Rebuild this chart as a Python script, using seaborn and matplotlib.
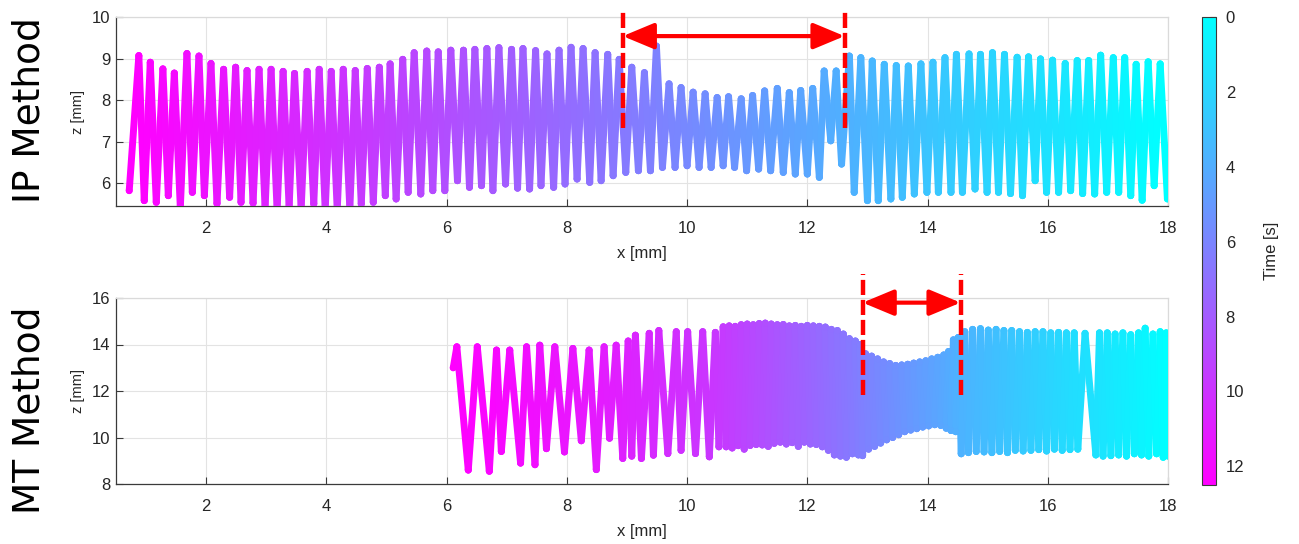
import numpy as np
import pandas as pd
import matplotlib
matplotlib.use("Agg")
import matplotlib.pyplot as plt
import seaborn as sns
from matplotlib.collections import LineCollection
from matplotlib.colors import Normalize

# ---- data (x in mm, z in mm) ----
DURATION = 12.5  # s, bottom of the colour bar

# IP method: peak and trough of every stroke (troughs list holds start and end point too)
ip_peak_x = [0.88, 1.07, 1.28, 1.47, 1.68, 1.88, 2.08, 2.29, 2.49, 2.68,
             2.88, 3.08, 3.28, 3.47, 3.68, 3.88, 4.08, 4.28, 4.48, 4.68,
             4.88, 5.06, 5.27, 5.46, 5.67, 5.86, 6.07, 6.28, 6.47, 6.67,
             6.87, 7.08, 7.27, 7.48, 7.67, 7.87, 8.07, 8.27, 8.47, 8.68,
             8.87, 9.08, 9.29, 9.49, 9.70, 9.90, 10.10, 10.30, 10.50, 10.69,
             10.90, 11.09, 11.29, 11.50, 11.70, 11.89, 12.09, 12.28, 12.48, 12.70,
             12.89, 13.08, 13.28, 13.48, 13.68, 13.89, 14.09, 14.29, 14.48, 14.69,
             14.88, 15.08, 15.28, 15.49, 15.68, 15.88, 16.08, 16.29, 16.49, 16.68,
             16.88, 17.09, 17.28, 17.47, 17.67, 17.87]
ip_peak_z = [9.07, 8.91, 8.75, 8.65, 9.12, 9.06, 8.88, 8.74, 8.79, 8.71,
             8.74, 8.74, 8.69, 8.64, 8.69, 8.74, 8.69, 8.74, 8.71, 8.76,
             8.79, 8.87, 8.98, 9.14, 9.18, 9.16, 9.20, 9.20, 9.22, 9.24,
             9.26, 9.22, 9.24, 9.19, 9.11, 9.20, 9.27, 9.24, 9.14, 9.10,
             8.98, 8.79, 8.66, 9.30, 8.39, 8.30, 8.19, 8.15, 8.06, 8.08,
             8.03, 8.11, 8.22, 8.28, 8.18, 8.23, 8.28, 8.70, 8.70, 9.06,
             9.02, 8.94, 8.86, 8.83, 8.82, 8.87, 8.91, 9.02, 9.10, 9.11,
             9.10, 9.14, 9.10, 9.03, 9.04, 8.99, 8.96, 8.88, 8.95, 8.95,
             9.08, 9.02, 9.02, 8.86, 8.92, 8.87]
ip_trough_x = [0.72,
               0.97, 1.17, 1.37, 1.57, 1.77, 1.97, 2.18, 2.39, 2.58, 2.78,
               2.98, 3.18, 3.38, 3.58, 3.79, 3.98, 4.18, 4.39, 4.58, 4.78,
               4.98, 5.16, 5.36, 5.57, 5.77, 5.97, 6.18, 6.38, 6.58, 6.77,
               6.98, 7.18, 7.38, 7.57, 7.78, 7.97, 8.17, 8.38, 8.57, 8.77,
               8.98, 9.19, 9.39, 9.59, 9.80, 10.00, 10.20, 10.40, 10.60, 10.79,
               10.99, 11.19, 11.39, 11.60, 11.80, 12.00, 12.20, 12.39, 12.57, 12.78,
               13.00, 13.18, 13.39, 13.58, 13.78, 13.99, 14.18, 14.39, 14.58, 14.79,
               14.99, 15.18, 15.38, 15.58, 15.79, 15.98, 16.18, 16.38, 16.58, 16.78,
               16.98, 17.18, 17.38, 17.57, 17.77,
               17.99]
ip_trough_z = [5.82,
               5.58, 5.54, 5.70, 5.42, 5.78, 5.70, 5.51, 5.66, 5.54, 5.52,
               5.40, 5.35, 5.42, 5.38, 5.50, 5.36, 5.35, 5.38, 5.50, 5.54,
               5.70, 5.62, 5.78, 5.74, 5.82, 5.82, 6.06, 5.90, 5.94, 5.82,
               5.98, 5.88, 5.86, 5.94, 5.90, 5.98, 6.10, 6.02, 6.06, 6.18,
               6.26, 6.30, 6.30, 6.38, 6.38, 6.42, 6.38, 6.38, 6.42, 6.38,
               6.30, 6.34, 6.30, 6.26, 6.22, 6.22, 6.14, 7.02, 6.46, 5.78,
               5.58, 5.58, 5.62, 5.66, 5.74, 5.78, 5.78, 5.78, 5.78, 5.86,
               5.78, 5.78, 5.75, 5.70, 6.06, 5.78, 5.78, 5.82, 5.75, 5.74,
               5.78, 5.78, 5.70, 5.59, 5.94,
               5.62]

# MT method
mt_peak_x = [6.17, 6.51, 6.83, 7.05, 7.33, 7.55, 7.80, 8.10, 8.37, 8.62,
             8.82, 9.02, 9.14, 9.37, 9.53, 9.82, 10.01, 10.26, 10.47,
             10.60, 10.70, 10.80, 10.90, 11.00, 11.10, 11.20, 11.30, 11.40, 11.50,
             11.60, 11.70, 11.80, 11.90, 12.00, 12.10, 12.20, 12.30, 12.40, 12.50,
             12.60, 12.70, 12.80, 12.88,
             12.97, 13.07, 13.17, 13.27, 13.37, 13.47, 13.57, 13.67, 13.77, 13.87,
             13.97, 14.07, 14.17, 14.27, 14.35, 14.43, 14.51,
             14.62, 14.75, 14.88, 15.01, 15.14, 15.27, 15.40, 15.53, 15.66, 15.79,
             15.92, 16.05, 16.18, 16.31, 16.44, 16.62, 16.86, 16.99, 17.12, 17.25,
             17.38, 17.51, 17.62, 17.75, 17.87, 17.97]
mt_peak_z = [13.90, 13.90, 13.76, 13.76, 13.90, 13.97, 13.90, 13.83, 13.76, 13.90,
             13.97, 14.15, 14.40, 14.48, 14.60, 14.55, 14.55, 14.55, 14.52,
             14.76, 14.80, 14.78, 14.85, 14.88, 14.85, 14.90, 14.92, 14.88, 14.85,
             14.86, 14.80, 14.82, 14.78, 14.82, 14.80, 14.78, 14.75, 14.65, 14.60,
             14.45, 14.25, 14.15, 14.00,
             13.60, 13.50, 13.38, 13.25, 13.18, 13.10, 13.12, 13.15, 13.20, 13.25,
             13.30, 13.38, 13.45, 13.55, 13.70, 14.20, 14.30,
             14.55, 14.65, 14.68, 14.62, 14.65, 14.60, 14.60, 14.55, 14.52, 14.55,
             14.55, 14.50, 14.52, 14.50, 14.50, 14.48, 14.50, 14.50, 14.45, 14.50,
             14.42, 14.50, 14.70, 14.45, 14.55, 14.50]
mt_trough_x = [6.11,
               6.36, 6.71, 6.91, 7.23, 7.47, 7.66, 7.96, 8.24, 8.49, 8.71,
               8.93, 9.08, 9.24, 9.44, 9.68, 9.90, 10.14, 10.37, 10.53,
               10.65, 10.75, 10.85, 10.95, 11.05, 11.15, 11.25, 11.35, 11.45, 11.55,
               11.65, 11.75, 11.85, 11.95, 12.05, 12.15, 12.25, 12.35, 12.45, 12.55,
               12.65, 12.75, 12.85, 12.92,
               13.02, 13.12, 13.22, 13.32, 13.42, 13.52, 13.62, 13.72, 13.82, 13.92,
               14.02, 14.12, 14.22, 14.31, 14.39, 14.47, 14.56,
               14.68, 14.81, 14.94, 15.07, 15.20, 15.33, 15.46, 15.59, 15.72, 15.85,
               15.98, 16.11, 16.24, 16.37, 16.50, 16.80, 16.92, 17.05, 17.18, 17.31,
               17.44, 17.56, 17.68, 17.81, 17.92, 18.00]
mt_trough_z = [13.00,
               8.60, 8.55, 9.40, 8.90, 8.83, 9.52, 9.38, 9.86, 8.62, 9.97,
               9.10, 9.20, 9.10, 9.24, 9.31, 9.45, 9.31, 9.17, 9.60,
               9.60, 9.55, 9.65, 9.50, 9.66, 9.70, 9.68, 9.62, 9.75, 9.80,
               9.72, 9.78, 9.62, 9.80, 9.72, 9.70, 9.60, 9.45, 9.25, 9.20,
               9.15, 9.30, 9.25, 9.22,
               9.50, 9.62, 9.76, 9.90, 10.00, 10.12, 10.25, 10.32, 10.38, 10.45,
               10.50, 10.55, 10.52, 10.40, 10.30, 10.25, 9.30,
               9.35, 9.40, 9.38, 9.35, 9.40, 9.35, 9.45, 9.42, 9.45, 9.48,
               9.42, 9.50, 9.45, 9.48, 9.50, 9.25, 9.20, 9.22, 9.25, 9.20,
               9.30, 9.25, 9.20, 9.30, 9.15, 9.20]

# red markers: (left x, right x, dash bottom z, dash top z, arrow z)
ip_mark = (8.93, 12.62, 7.33, 10.22, 9.54)
mt_mark = (12.92, 14.55, 11.83, 17.03, 15.8)

x_ticks = [2, 4, 6, 8, 10, 12, 14, 16, 18]
time_ticks = [0, 2, 4, 6, 8, 10, 12]

DARK = "#262626"
LW = 5.0
norm = Normalize(0, DURATION)


def build_trace(peak_x, peak_z, trough_x, trough_z):
    x, z = [trough_x[0]], [trough_z[0]]
    for px, pz, tx, tz in zip(peak_x, peak_z, trough_x[1:], trough_z[1:]):
        x += [px, tx]
        z += [pz, tz]
    # samples are taken at a constant rate, the left end is the oldest
    t = DURATION * (1 - np.arange(len(x)) / (len(x) - 1))
    return pd.DataFrame({"x": x, "z": z, "t": t})


def draw_trace(ax, df):
    pts = df[["x", "z"]].to_numpy()
    segs = np.stack([pts[:-1], pts[1:]], axis=1)
    lc = LineCollection(segs, cmap="cool", norm=norm, linewidths=LW,
                        capstyle="round", joinstyle="round", zorder=3)
    lc.set_array((df["t"].values[:-1] + df["t"].values[1:]) / 2)
    ax.add_collection(lc)
    sns.scatterplot(data=df, x="x", y="z", hue="t", palette="cool", hue_norm=norm,
                    s=LW ** 2, linewidth=0, legend=False, ax=ax, zorder=4)


def style_axes(ax, ylim, yticks):
    ax.set_xlim(0.5, 18)
    ax.set_ylim(*ylim)
    ax.set_xticks(x_ticks)
    ax.set_yticks(yticks)
    ax.grid(True, color="#e3e3e3", lw=0.8)
    ax.set_axisbelow(True)
    for s in ["left", "bottom"]:
        ax.spines[s].set_color("#3a3a3a")
        ax.spines[s].set_linewidth(0.9)
    for s in ["top", "right"]:
        ax.spines[s].set_color("#dadada")
        ax.spines[s].set_linewidth(0.9)
    ax.tick_params(axis="both", direction="in", length=5, width=0.8, color="#3a3a3a",
                   labelsize=12, labelcolor=DARK, left=True, bottom=True)
    ax.tick_params(axis="x", pad=11)
    ax.tick_params(axis="y", pad=4)
    ax.set_xlabel("x [mm]", fontsize=12, color=DARK, labelpad=7)
    ax.set_ylabel("z [mm]", fontsize=10.5, color=DARK, labelpad=5)


def draw_marker(ax, mark):
    x0, x1, zb, zt, za = mark
    for xv in (x0, x1):
        ax.plot([xv, xv], [zb, zt], color="red", lw=3.2, ls=(0, (3.4, 1.1)),
                clip_on=False, zorder=6, solid_capstyle="butt")
    ax.annotate("", xy=(x1, za), xytext=(x0, za), annotation_clip=False, zorder=6,
                arrowprops=dict(arrowstyle="<|-|>,head_length=1.2,head_width=0.5",
                                color="red", lw=3, shrinkA=0, shrinkB=0,
                                mutation_scale=16))


sns.set_style("whitegrid")
plt.rcParams["font.family"] = ["Liberation Sans", "DejaVu Sans"]

fig = plt.figure(figsize=(12.99, 5.44), dpi=100)
W, H = 1299, 544
ax_ip = fig.add_axes([116 / W, 1 - 206 / H, 1052 / W, 189 / H])
ax_mt = fig.add_axes([116 / W, 1 - 484 / H, 1052 / W, 186 / H])

ip = build_trace(ip_peak_x, ip_peak_z, ip_trough_x, ip_trough_z)
mt = build_trace(mt_peak_x, mt_peak_z, mt_trough_x, mt_trough_z)

draw_trace(ax_ip, ip)
draw_trace(ax_mt, mt)
style_axes(ax_ip, (5.45, 10), [6, 7, 8, 9, 10])
style_axes(ax_mt, (8, 16), [8, 10, 12, 14, 16])
draw_marker(ax_ip, ip_mark)
draw_marker(ax_mt, mt_mark)

# colour bar (time runs downward)
cax = fig.add_axes([1202 / W, 1 - 485 / H, 14 / W, 468 / H])
sm = plt.cm.ScalarMappable(norm=norm, cmap="cool")
cb = fig.colorbar(sm, cax=cax)
cax.invert_yaxis()
cb.set_ticks(time_ticks)
cb.outline.set_edgecolor("#3a3a3a")
cb.outline.set_linewidth(0.8)
cax.tick_params(direction="in", length=4, width=0.8, color="#3a3a3a",
                labelsize=12, labelcolor=DARK, pad=7)
cb.set_label("Time [s]", fontsize=12, color=DARK, labelpad=14)

fig.text(30 / W, 1 - 110 / H, "IP Method", rotation=90, ha="center", va="center",
         fontsize=27, family="DejaVu Sans", color="black")
fig.text(30 / W, 1 - 410 / H, "MT Method", rotation=90, ha="center", va="center",
         fontsize=27, family="DejaVu Sans", color="black")

fig.savefig("out.png", dpi=100)
